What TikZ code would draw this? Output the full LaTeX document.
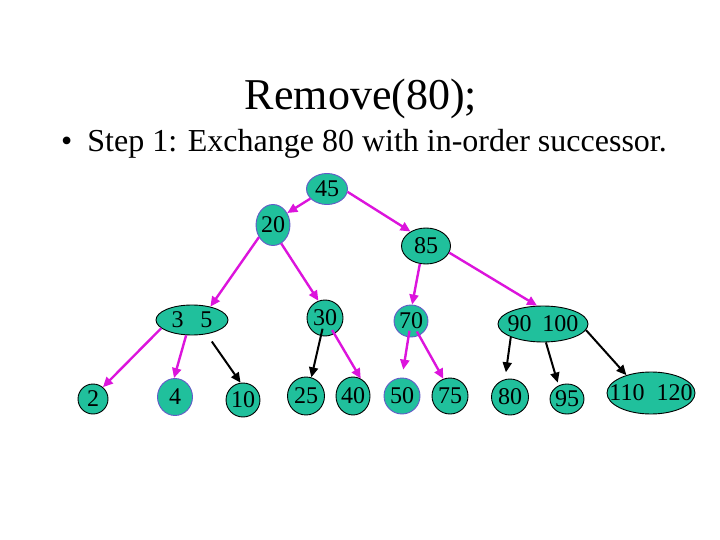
\documentclass[tikz,border=0pt]{standalone}
\usepackage{fontspec}
\setmainfont{Liberation Serif}
\usetikzlibrary{shapes.geometric,arrows.meta}
\definecolor{keyfill}{RGB}{32,192,156}
\definecolor{pinkline}{RGB}{220,20,220}
\definecolor{blueedge}{RGB}{100,90,200}

\begin{document}
\begin{tikzpicture}[x=1pt,y=-1pt,
		key/.style={ellipse, draw=black, fill=keyfill, line width=0.9pt, inner sep=0pt, font=\fontsize{24}{24}\selectfont},
		bluekey/.style={key, draw=blueedge},
		pinkarrow/.style={-{Triangle[length=10pt,width=9pt]}, draw=pinkline, line width=2.4pt},
		blackarrow/.style={-{Triangle[length=10pt,width=9pt]}, draw=black, line width=2pt}]
				
				\useasboundingbox (0,0) rectangle (720,540);
				
				\node[anchor=base, font=\fontsize{44}{44}\selectfont] (title) at (361,110) {Remove(80);};
				\node[anchor=base west, inner sep=0pt, font=\fontsize{32}{32}\selectfont] (step) at (61,152) {\textbullet\hspace{15pt}Step 1: Exchange 80 with in-order successor.};
				
				% top levels
				\node[bluekey, minimum width=41pt, minimum height=31pt] (n45) at (327,189) {45};
				\node[bluekey, minimum width=30pt, minimum height=41pt] (n20) at (273,225) {20};
				\node[key, minimum width=49pt, minimum height=36pt] (n85) at (426,246) {85};
				
				\node[key, minimum width=72pt, minimum height=30pt] (n35) at (192,320) {\makebox[0pt]{3\hspace{17pt}5}};
				\node[key, minimum width=36pt, minimum height=36pt] (n30) at (325,318) {30};
				\node[bluekey, minimum width=30pt, minimum height=32pt] (n70) at (411,321) {70};
				\node[key, minimum width=90pt, minimum height=36pt] (n90100) at (543,324) {\makebox[0pt]{90\hspace{11pt}100}};
				
				% leaves
				\node[key, minimum width=30pt, minimum height=30pt] (n2) at (93,399) {2};
				\node[bluekey, minimum width=35pt, minimum height=37pt] (n4) at (175,397) {4};
				\node[key, minimum width=30pt, minimum height=34pt] (n10) at (243,400) {10};
				\node[key, minimum width=37pt, minimum height=38pt] (n25) at (306,396) {25};
				\node[key, minimum width=34pt, minimum height=38pt] (n40) at (353,396) {40};
				\node[bluekey, minimum width=36pt, minimum height=36pt] (n50) at (402,396) {50};
				\node[key, minimum width=36pt, minimum height=36pt] (n75) at (450,396) {75};
				\node[key, minimum width=37pt, minimum height=36pt] (n80) at (510,397) {80};
				\node[key, minimum width=30pt, minimum height=30pt] (n95) at (567,399) {95};
				\node[key, minimum width=88pt, minimum height=42pt] (n110120) at (651,393) {\makebox[0pt]{110\hspace{12pt}120}};
				
				% links
				\draw[pinkarrow] (n45.-150) -- (n20.40);
				\draw[pinkarrow] (n45.-8) -- (n85.137);
				\draw[pinkarrow] (n20.-139) -- (n35.36);
				\draw[pinkarrow] (n20.-66) -- (n30.111);
				\draw[pinkarrow] (n85.251) -- (n70.86);
				\draw[pinkarrow] (n85.-16) -- (n90100.108);
				
				\draw[pinkarrow] (n35.195) -- (n2.50);
				\draw[pinkarrow] (n35.249) -- (n4.93);
				\draw[blackarrow, shorten <=9pt] (n35.-44) -- (n10.98);
				\draw[blackarrow, shorten <=11pt] (n30.center) -- (n25.74);
				\draw[pinkarrow, shorten <=14pt] (n30.center) -- (n40.66);
				\draw[pinkarrow, shorten <=10pt, shorten >=8pt] (n70.center) -- (n50.north);
				\draw[pinkarrow, shorten <=12pt] (n70.center) -- (n75.111);
				\draw[blackarrow, shorten >=7pt] (n90100.202) -- (n80.106);
				\draw[blackarrow, shorten >=3pt] (n90100.-81) -- (n95.122);
				\draw[blackarrow] (n90100.-8) -- (n110120.144);
				
			\end{tikzpicture}
\end{document}
